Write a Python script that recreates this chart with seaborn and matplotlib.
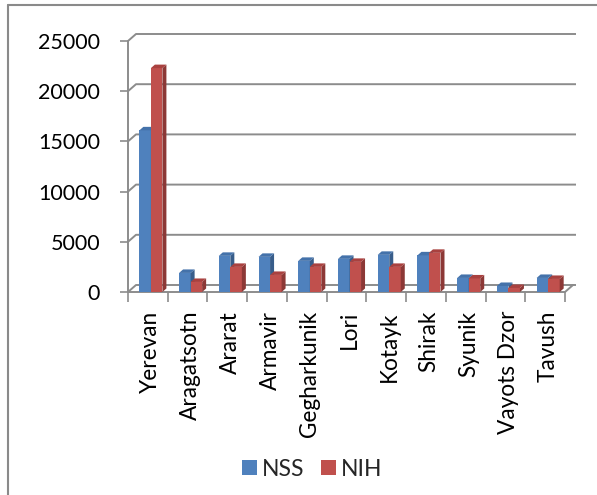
import matplotlib
matplotlib.use("Agg")
import matplotlib.pyplot as plt
from matplotlib.lines import Line2D
from matplotlib.patches import Polygon, Patch
import seaborn as sns
import pandas as pd

regions = ["Yerevan", "Aragatsotn", "Ararat", "Armavir", "Gegharkunik", "Lori",
           "Kotayk", "Shirak", "Syunik", "Vayots Dzor", "Tavush"]
nss = [16100, 1900, 3600, 3500, 3100, 3300, 3700, 3650, 1400, 600, 1400]
nih = [22300, 1000, 2500, 1700, 2500, 3000, 2500, 3900, 1350, 400, 1300]
series = ["NSS", "NIH"]
y_ticks = [0, 5000, 10000, 15000, 20000, 25000]

front = {"NSS": "#4F81BD", "NIH": "#C0504D"}
side = {"NSS": "#385D8A", "NIH": "#8C3836"}
top = {"NSS": "#4472AA", "NIH": "#A9413F"}
grid_c = "#8C8C8C"

df = pd.DataFrame({
    "region": regions * 2,
    "value": nss + nih,
    "series": ["NSS"] * len(regions) + ["NIH"] * len(regions),
})

sns.set_theme(style="white")
plt.rcParams["font.family"] = ["Lato", "DejaVu Sans"]

W, H, DPI = 597, 495, 100
fig = plt.figure(figsize=(W / DPI, H / DPI), dpi=DPI)
ax = fig.add_axes([128 / W, 203 / H, 437 / W, 251 / H])

# the bars sit in the middle of the chart depth, a little right of the slot centre
shift = 0.076

sns.barplot(data=df, x="region", y="value", hue="series", order=regions,
            hue_order=series, palette=front, width=0.58, saturation=1,
            edgecolor="none", linewidth=0, legend=False, ax=ax)
ax.set_xlim(-0.5 - shift, len(regions) - 0.5 - shift)
ax.set_ylim(0, 25000)

# pixel -> data factors
px_x = len(regions) / 437.0
px_y = 25000 / 251.0

# 3-D caps and sides of each bar
bdx, bdy = 4 * px_x, 3.5 * px_y
for k, p in enumerate(ax.patches):
    s = series[0] if k < len(regions) else series[1]
    z = 2 if s == "NSS" else 3
    p.set_zorder(z)
    x0, w, h = p.get_x(), p.get_width(), p.get_height()
    x1 = x0 + w
    ax.add_patch(Polygon([(x1, 0), (x1 + bdx, bdy), (x1 + bdx, h + bdy), (x1, h)],
                         closed=True, facecolor=side[s], edgecolor="none",
                         zorder=z + 0.1, clip_on=False))
    ax.add_patch(Polygon([(x0, h), (x0 + bdx, h + bdy), (x1 + bdx, h + bdy), (x1, h)],
                         closed=True, facecolor=top[s], edgecolor="none",
                         zorder=z + 0.1, clip_on=False))

# side wall and back wall gridlines
xl0, xl1 = ax.get_xlim()
wdx, wdy = 8 * px_x, 7 * px_y
x_back_end = xl0 + (576 - 128) * px_x
for v in y_ticks:
    ax.plot([xl0, xl0 + wdx, x_back_end], [v, v + wdy, v + wdy], color=grid_c,
            lw=1.4, zorder=1, clip_on=False, solid_capstyle="butt")

# floor front edge with its right-hand corner
ax.plot([xl0, xl1, xl1 + wdx], [0, 0, wdy], color=grid_c, lw=1.4, zorder=1.5,
        clip_on=False)
# value axis
ax.plot([xl0, xl0], [0, 25000], color=grid_c, lw=1.4, zorder=1.5, clip_on=False)

for sp in ax.spines.values():
    sp.set_visible(False)

ax.set_yticks(y_ticks)
ax.set_yticklabels([str(v) for v in y_ticks])
ax.tick_params(axis="y", length=8 * 0.72, width=1.2, color=grid_c, pad=20 * 0.72,
               labelsize=15.5, labelcolor="black", left=True)

# category labels under the bar pairs, boundary ticks at the slot edges
ax.set_xticks(list(range(len(regions))))
ax.set_xticklabels(regions, rotation=90)
ax.set_xticks([i - 0.5 - shift for i in range(len(regions) + 1)], minor=True)
ax.tick_params(axis="x", which="major", length=0, pad=19 * 0.72, labelsize=16.3,
               labelcolor="black")
ax.tick_params(axis="x", which="minor", length=10 * 0.72, width=1.2, color=grid_c,
               bottom=True)
ax.set_xlabel("")
ax.set_ylabel("")
ax.grid(False)
ax.set_facecolor("none")

leg_fs = 16.5
em = leg_fs / 0.72
handles = [Patch(facecolor=front[s], edgecolor="none", label=s) for s in series]
fig.legend(handles=handles, loc="center", bbox_to_anchor=(312 / W, 1 - 469 / H),
           ncol=2, frameon=False, fontsize=leg_fs, handlelength=15 / em,
           handleheight=14 / em, handletextpad=5 / em, columnspacing=17 / em,
           borderpad=0)

# chart area border
fig.add_artist(Line2D([7.5 / W, 7.5 / W], [0, 1 - 5 / H], color="#8A8A8A", lw=1.5,
                      transform=fig.transFigure))
fig.add_artist(Line2D([7.5 / W, 1], [1 - 5 / H, 1 - 5 / H], color="#8A8A8A", lw=1.5,
                      transform=fig.transFigure))

fig.savefig("out.png", dpi=DPI)
